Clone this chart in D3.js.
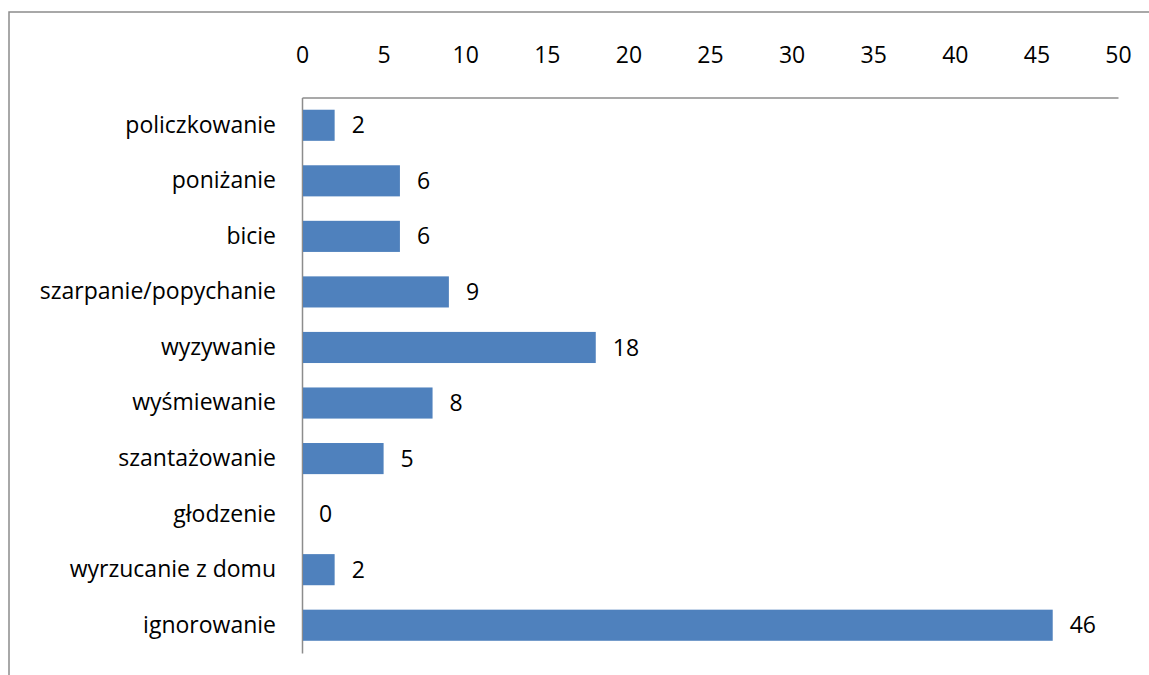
<!DOCTYPE html>
<html><head><meta charset="utf-8">
<script src="https://cdn.jsdelivr.net/npm/d3@7"></script>
<style>body{margin:0;background:#fff}svg{display:block}text{font-family:"Open Sans",sans-serif}</style>
</head><body>
<svg id="c" width="1149" height="675"></svg>
<script>
const categories = ["policzkowanie","poniżanie","bicie","szarpanie/popychanie","wyzywanie","wyśmiewanie","szantażowanie","głodzenie","wyrzucanie z domu","ignorowanie"];
const values = [2,6,6,9,18,8,5,0,2,46];
const tickValues = [0,5,10,15,20,25,30,35,40,45,50];

(function(){
const svg = d3.select("#c");
const pL = 302, pR = 1118, pT = 97.5, pB = 653;
const fs = 23;
const x = d3.scaleLinear().domain([0,50]).range([pL,pR]);
const y = d3.scaleBand().domain(categories).range([pT,pB]).paddingInner(0.44).paddingOuter(0.22);

// outer border
svg.append("path").attr("d","M9,690 V12 H1160").attr("fill","none").attr("stroke","#8c8c8c").attr("stroke-width",1.5);

// top axis line (with labels)
const ax = svg.append("g").attr("transform",`translate(0,${pT})`)
  .call(d3.axisTop(x).tickValues(tickValues).tickSize(0).tickPadding(0).tickFormat(d3.format("d")));
ax.select(".domain").attr("stroke","#8c8c8c").attr("stroke-width",1.5);
ax.selectAll("text").attr("y",-42.5).attr("dy","0.35em").attr("font-size",fs).attr("fill","#000").attr("font-family","\"Open Sans\",sans-serif");

// left axis
const ay = svg.append("g").attr("transform",`translate(${pL},0)`)
  .call(d3.axisLeft(y).tickSize(0).tickPadding(26));
ay.select(".domain").attr("stroke","#8c8c8c").attr("stroke-width",1.5);
ay.selectAll("text").attr("font-size",fs).attr("fill","#000").attr("font-family","\"Open Sans\",sans-serif");

// bars
svg.append("g").selectAll("rect").data(values).join("rect")
  .attr("x", x(0)+1).attr("y",(d,i)=>y(categories[i]))
  .attr("width",d=>Math.max(0,x(d)-x(0)-1)).attr("height",y.bandwidth())
  .attr("fill","#4f81bd");

// value labels
svg.append("g").selectAll("text").data(values).join("text")
  .attr("x",d=>x(d)+17).attr("y",(d,i)=>y(categories[i])+y.bandwidth()/2)
  .attr("dy","0.35em").attr("font-size",fs).attr("fill","#000")
  .text(d=>d);
})();
</script>
</body></html>
